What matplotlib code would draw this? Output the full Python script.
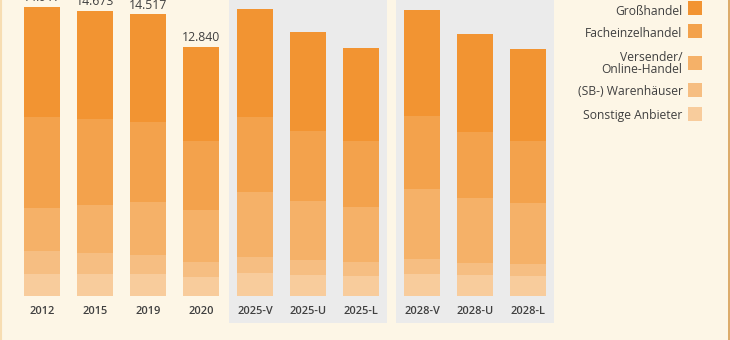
import matplotlib
matplotlib.use("Agg")
import matplotlib.pyplot as plt
from matplotlib.patches import Rectangle
from matplotlib.lines import Line2D
import matplotlib.transforms as mtransforms

plt.rcParams['font.family'] = ['Open Sans', 'DejaVu Sans']

# Sales by distribution channel, million EUR
categories = ["2012", "2015", "2019", "2020",
              "2025-V", "2025-U", "2025-L",
              "2028-V", "2028-U", "2028-L"]
group_of = [0, 0, 0, 0, 1, 1, 1, 2, 2, 2]
labeled = [True, True, True, True, False, False, False, False, False, False]

grosshandel = [5680, 5550, 5530, 4850, 5570, 5110, 4800, 5470, 5050, 4740]
facheinzelhandel = [4700, 4450, 4140, 3560, 3870, 3610, 3400, 3760, 3400, 3200]
versender_online = [2220, 2470, 2740, 2680, 3350, 3040, 2840, 3610, 3350, 3150]
warenhaeuser = [1190, 1080, 980, 770, 830, 770, 720, 770, 620, 620]
sonstige = [1127, 1123, 1127, 980, 1190, 1080, 1030, 1130, 1080, 1030]

series_names = ["Großhandel", "Facheinzelhandel", "Versender/\nOnline-Handel",
                "(SB-) Warenhäuser", "Sonstige Anbieter"]
series_values = [grosshandel, facheinzelhandel, versender_online, warenhaeuser, sonstige]
series_colors = ["#F29432", "#F3A24C", "#F5B168", "#F6BE82", "#F8CC9C"]

BG = "#FDF6E6"
PANEL = "#EBEBEB"
TEXT = "#404040"

W, H = 730, 340
fig = plt.figure(figsize=(W / 100, H / 100), dpi=100, facecolor=BG)
ax = fig.add_axes([0, 0, 1, 1])
ax.set_facecolor(BG)
for s in ax.spines.values():
    s.set_visible(False)
ax.set_xticks([])
ax.set_yticks([])

# layout: 53 px per category slot, extra shift per scenario group
slot_px = 53.0
first_center_px = 42.0
group_shift = [0.0, 0.02, 0.17]
pos = [i + group_shift[g] for i, g in enumerate(group_of)]
bar_w = 36 / slot_px

base_px = 296.0
px_per_unit = 249.0 / 12840.0
ax.set_xlim(-first_center_px / slot_px, (W - first_center_px) / slot_px)
ax.set_ylim(-(H - base_px) / px_per_unit, base_px / px_per_unit)

# gray panels behind the forecast scenarios
trans_xdata_yaxes = mtransforms.blended_transform_factory(ax.transData, ax.transAxes)
pad = 8 / slot_px
for g in (1, 2):
    idx = [i for i, gg in enumerate(group_of) if gg == g]
    x0 = pos[idx[0]] - bar_w / 2 - pad
    x1 = pos[idx[-1]] + bar_w / 2 + pad
    ax.add_patch(Rectangle((x0, 17 / H), x1 - x0, 1.2, transform=trans_xdata_yaxes,
                           facecolor=PANEL, edgecolor="none", zorder=0))

# stacked bars, bottom segment first
bottoms = [0.0] * len(categories)
for vals, col in zip(reversed(series_values), reversed(series_colors)):
    ax.bar(pos, vals, width=bar_w, bottom=bottoms, color=col, edgecolor="none", zorder=2)
    bottoms = [b + v for b, v in zip(bottoms, vals)]

# totals above historic bars
for p, total, show in zip(pos, bottoms, labeled):
    if show:
        txt = f"{int(round(total)):,}".replace(",", ".")
        ax.annotate(txt, (p, total), xytext=(0, 4.3), textcoords="offset points",
                    ha="center", va="baseline", fontsize=8.8, color=TEXT, zorder=3)

# category labels
for p, c in zip(pos, categories):
    ax.text(p, 1 - 311 / H, c, transform=trans_xdata_yaxes, ha="center", va="center",
            fontsize=7.9, fontweight="semibold", color=TEXT, zorder=3)

# legend: labels right-aligned, swatch on the right
def fy(y_px):
    return 1 - y_px / H

def fx(x_px):
    return x_px / W

text_right = 682.5
sw_x, sw_w, sw_h = 688, 14, 14
swatch_centers = [8, 30.5, 62.5, 90, 113.5]
baselines = [[15], [36.7], [61.0, 73.0], [95], [119.3]]
for name, col, cy, bl in zip(series_names, series_colors, swatch_centers, baselines):
    fig.patches.append(Rectangle((fx(sw_x), fy(cy + sw_h / 2)), sw_w / W, sw_h / H,
                                 transform=fig.transFigure, facecolor=col,
                                 edgecolor="none", zorder=5))
    for line, b in zip(name.split("\n"), bl):
        fig.text(fx(text_right), fy(b), line, ha="right", va="baseline",
                 fontsize=8.7, color=TEXT)

# frame edges of the panel
fig.add_artist(Line2D([fx(728.8), fx(728.8)], [0, 1], transform=fig.transFigure,
                      color="#D9A55E", lw=1.3))
fig.add_artist(Line2D([fx(0.8), fx(0.8)], [0, 1], transform=fig.transFigure,
                      color="#F7DDB2", lw=1.5))

fig.savefig("out.png", dpi=100, facecolor=BG)
